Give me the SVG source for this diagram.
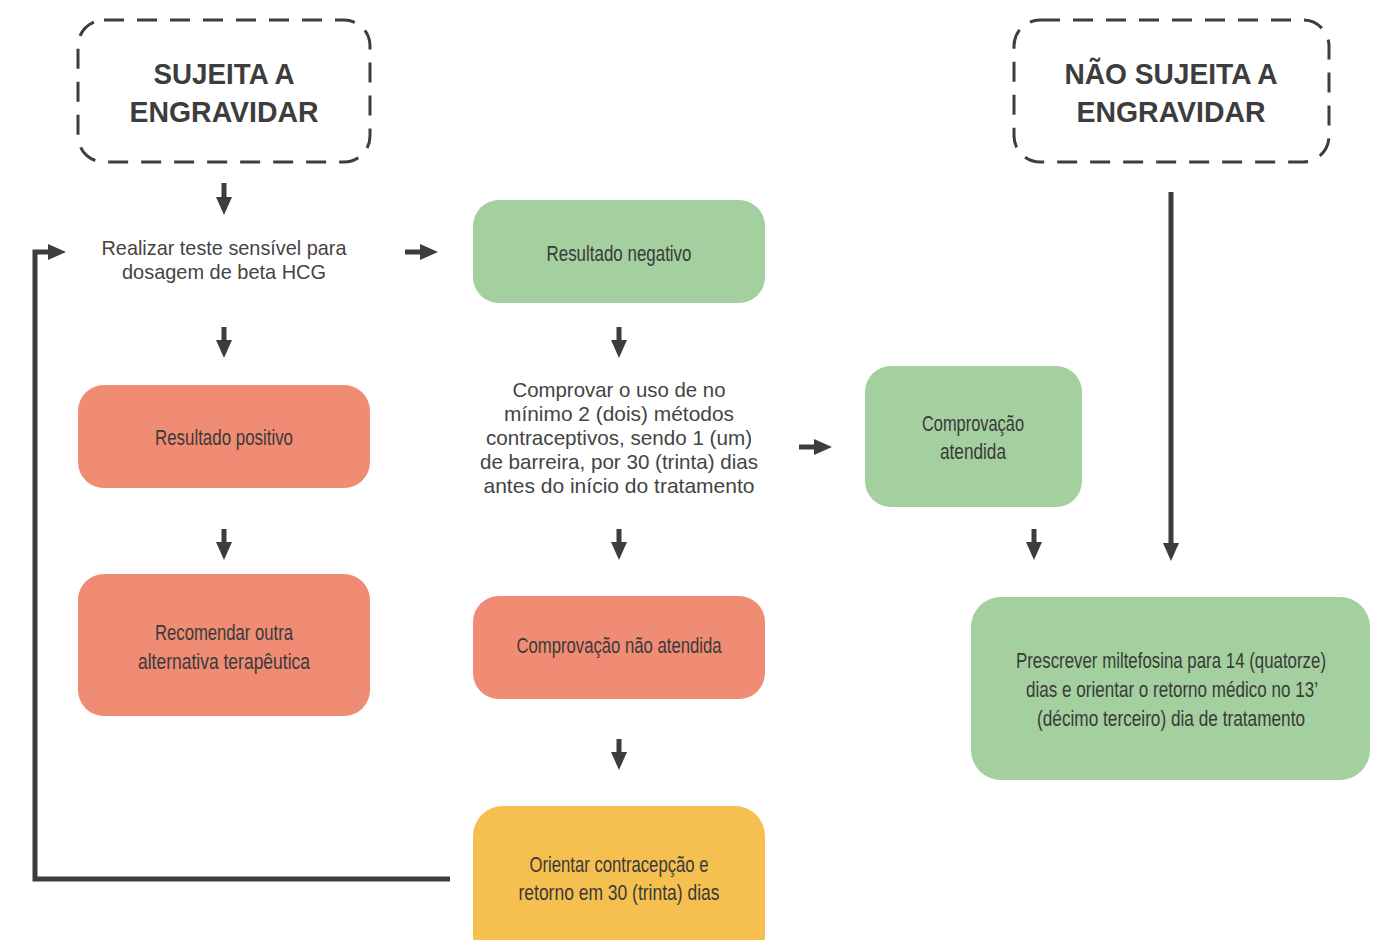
<svg xmlns="http://www.w3.org/2000/svg" width="1385" height="940" viewBox="0 0 1385 940">
<style>
.title{font-family:"Liberation Sans",Arial,sans-serif;font-weight:bold;font-size:30px;fill:#3d3d3d;text-anchor:middle}
.plain{font-family:"Liberation Sans",Arial,sans-serif;font-size:21px;fill:#444;text-anchor:middle}
.box{font-family:"Liberation Sans",Arial,sans-serif;font-size:22px;fill:#3a3a3a;text-anchor:middle}
.boxs{font-family:"Liberation Sans",Arial,sans-serif;font-size:17px;fill:#3a3a3a;text-anchor:middle}
.dash{fill:none;stroke:#3d3d3d;stroke-width:3;stroke-dasharray:20 13}
.green{fill:#a3d09e}
.red{fill:#f08c73}
.yellow{fill:#f5c04f}
.conn{fill:none;stroke:#3d3d3d;stroke-width:5}
</style>
<defs>
<marker id="ah" markerUnits="userSpaceOnUse" markerWidth="18" markerHeight="16" refX="0" refY="8" orient="auto" viewBox="0 0 18 16">
<path d="M0,0 L18,8 L0,16 z" fill="#3d3d3d"/>
</marker>
</defs>
<rect width="1385" height="940" fill="#fff"/>

<g id="n-sujeita">
<rect class="dash" x="78" y="20" width="292" height="142" rx="26"/>
<text class="title" x="224" y="84" textLength="141" lengthAdjust="spacingAndGlyphs">SUJEITA A</text>
<text class="title" x="224" y="122" textLength="189" lengthAdjust="spacingAndGlyphs">ENGRAVIDAR</text>
</g>

<g id="n-nao-sujeita">
<rect class="dash" x="1014" y="20" width="315" height="142" rx="26"/>
<text class="title" x="1171" y="84" textLength="213" lengthAdjust="spacingAndGlyphs">NÃO SUJEITA A</text>
<text class="title" x="1171" y="122" textLength="189" lengthAdjust="spacingAndGlyphs">ENGRAVIDAR</text>
</g>

<g id="n-teste">
<text class="plain" x="224" y="255" textLength="245" lengthAdjust="spacingAndGlyphs">Realizar teste sensível para</text>
<text class="plain" x="224" y="279" textLength="204" lengthAdjust="spacingAndGlyphs">dosagem de beta HCG</text>
</g>

<g id="n-negativo">
<rect class="green" x="473" y="200" width="292" height="103" rx="26"/>
<text class="box" x="619" y="261" textLength="145" lengthAdjust="spacingAndGlyphs">Resultado negativo</text>
</g>

<g id="n-positivo">
<rect class="red" x="78" y="385" width="292" height="103" rx="26"/>
<text class="box" x="224" y="445" textLength="138" lengthAdjust="spacingAndGlyphs">Resultado positivo</text>
</g>

<g id="n-comprovar">
<text class="plain" x="619" y="397" textLength="213" lengthAdjust="spacingAndGlyphs">Comprovar o uso de no</text>
<text class="plain" x="619" y="421" textLength="230" lengthAdjust="spacingAndGlyphs">mínimo 2 (dois) métodos</text>
<text class="plain" x="619" y="445" textLength="266" lengthAdjust="spacingAndGlyphs">contraceptivos, sendo 1 (um)</text>
<text class="plain" x="619" y="469" textLength="278" lengthAdjust="spacingAndGlyphs">de barreira, por 30 (trinta) dias</text>
<text class="plain" x="619" y="493" textLength="271" lengthAdjust="spacingAndGlyphs">antes do início do tratamento</text>
</g>

<g id="n-atendida">
<rect class="green" x="865" y="366" width="217" height="141" rx="26"/>
<text class="box" x="973" y="431" textLength="102" lengthAdjust="spacingAndGlyphs">Comprovação</text>
<text class="box" x="973" y="459" textLength="66" lengthAdjust="spacingAndGlyphs">atendida</text>
</g>

<g id="n-recomendar">
<rect class="red" x="78" y="574" width="292" height="142" rx="26"/>
<text class="box" x="224" y="640" textLength="138" lengthAdjust="spacingAndGlyphs">Recomendar outra</text>
<text class="box" x="224" y="669" textLength="172" lengthAdjust="spacingAndGlyphs">alternativa terapêutica</text>
</g>

<g id="n-nao-atendida">
<rect class="red" x="473" y="596" width="292" height="103" rx="26"/>
<text class="box" x="619" y="653" textLength="205" lengthAdjust="spacingAndGlyphs">Comprovação não atendida</text>
</g>

<g id="n-prescrever">
<rect class="green" x="971" y="597" width="399" height="183" rx="30"/>
<text class="boxs" transform="translate(1171,668) scale(1,1.294)" x="0" y="0" textLength="310" lengthAdjust="spacingAndGlyphs">Prescrever miltefosina para 14 (quatorze)</text>
<text class="boxs" transform="translate(1172,697) scale(1,1.294)" x="0" y="0" textLength="292" lengthAdjust="spacingAndGlyphs">dias e orientar o retorno médico no 13’</text>
<text class="boxs" transform="translate(1171,726) scale(1,1.294)" x="0" y="0" textLength="268" lengthAdjust="spacingAndGlyphs">(décimo terceiro) dia de tratamento</text>
</g>

<g id="n-orientar">
<rect class="yellow" x="473" y="806" width="292" height="160" rx="30"/>
<text class="box" x="619" y="872" textLength="179" lengthAdjust="spacingAndGlyphs">Orientar contracepção e</text>
<text class="box" x="619" y="900" textLength="201" lengthAdjust="spacingAndGlyphs">retorno em 30 (trinta) dias</text>
</g>

<g id="connectors">
<line class="conn" x1="224" y1="183" x2="224" y2="197" marker-end="url(#ah)"/>
<line class="conn" x1="405" y1="252" x2="420" y2="252" marker-end="url(#ah)"/>
<line class="conn" x1="224" y1="327" x2="224" y2="340" marker-end="url(#ah)"/>
<line class="conn" x1="619" y1="327" x2="619" y2="340" marker-end="url(#ah)"/>
<line class="conn" x1="224" y1="529" x2="224" y2="542" marker-end="url(#ah)"/>
<line class="conn" x1="619" y1="529" x2="619" y2="542" marker-end="url(#ah)"/>
<line class="conn" x1="799" y1="447" x2="814" y2="447" marker-end="url(#ah)"/>
<line class="conn" x1="1034" y1="529" x2="1034" y2="542" marker-end="url(#ah)"/>
<line class="conn" x1="1171" y1="192" x2="1171" y2="543" marker-end="url(#ah)"/>
<line class="conn" x1="619" y1="739" x2="619" y2="752" marker-end="url(#ah)"/>
<path class="conn" d="M450,879 H35 V252 H48" marker-end="url(#ah)"/>
</g>
</svg>
